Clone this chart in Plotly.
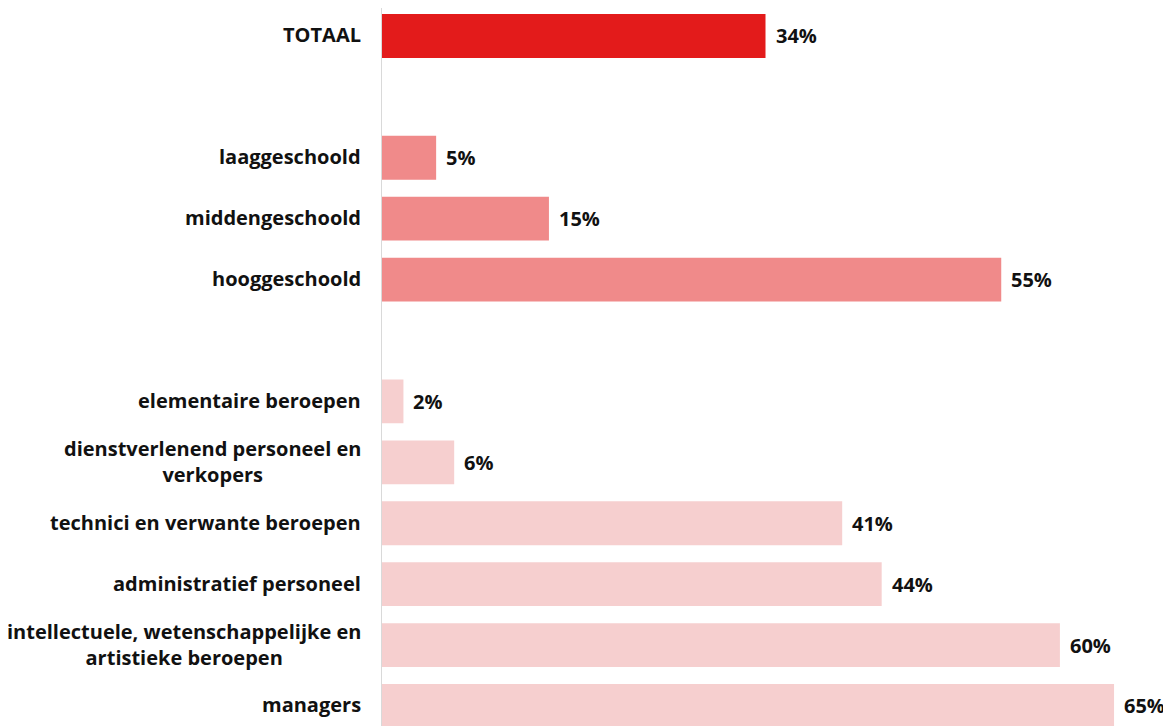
import plotly.graph_objects as go

categories = [
    "TOTAAL",
    "laaggeschoold",
    "middengeschoold",
    "hooggeschoold",
    "elementaire beroepen",
    "dienstverlenend personeel en<br>verkopers",
    "technici en verwante beroepen",
    "administratief personeel",
    "intellectuele, wetenschappelijke en<br>artistieke beroepen",
    "managers",
]
values = [34.0, 4.8, 14.8, 54.9, 1.9, 6.4, 40.8, 44.3, 60.1, 64.9]
value_labels = ["34%", "5%", "15%", "55%", "2%", "6%", "41%", "44%", "60%", "65%"]
groups = ["totaal", "opleiding", "opleiding", "opleiding",
          "beroep", "beroep", "beroep", "beroep", "beroep", "beroep"]
# row slots (with empty slots between groups)
rows = [0, 2, 3, 4, 6, 7, 8, 9, 10, 11]

group_colors = {"totaal": "#e31b1b", "opleiding": "#f08a8a", "beroep": "#f6cfcf"}
FONT = "Open Sans"

fig = go.Figure()
fig.add_trace(go.Bar(
    x=values,
    y=rows,
    orientation="h",
    marker=dict(color=[group_colors[g] for g in groups], line=dict(width=0)),
    width=0.72,
    hoverinfo="skip",
))

annotations = []
for cat, r in zip(categories, rows):
    annotations.append(dict(
        x=0, xref="paper", y=r, yref="y",
        text=cat, showarrow=False, xanchor="right", yanchor="middle",
        align="center", xshift=-19, yshift=1,
        font=dict(family=FONT, size=20, color="#111111", weight="bold"),
    ))
for v, lab, r in zip(values, value_labels, rows):
    annotations.append(dict(
        x=v, xref="x", y=r, yref="y",
        text=lab, showarrow=False, xanchor="left", yanchor="middle",
        xshift=8,
        font=dict(family=FONT, size=20, color="#111111", weight="bold"),
    ))

fig.update_layout(
    width=1163, height=726,
    margin=dict(l=374, r=0, t=0, b=0),
    paper_bgcolor="white", plot_bgcolor="white",
    showlegend=False,
    annotations=annotations,
    xaxis=dict(range=[0, 69.95], visible=False, fixedrange=True),
    yaxis=dict(range=[11.46, -0.459], showticklabels=False, showgrid=False,
               zeroline=False, showline=True, linecolor="#d9d9d9", linewidth=1,
               ticks=""),
    font=dict(family=FONT),
)

fig.write_html("out.html")
